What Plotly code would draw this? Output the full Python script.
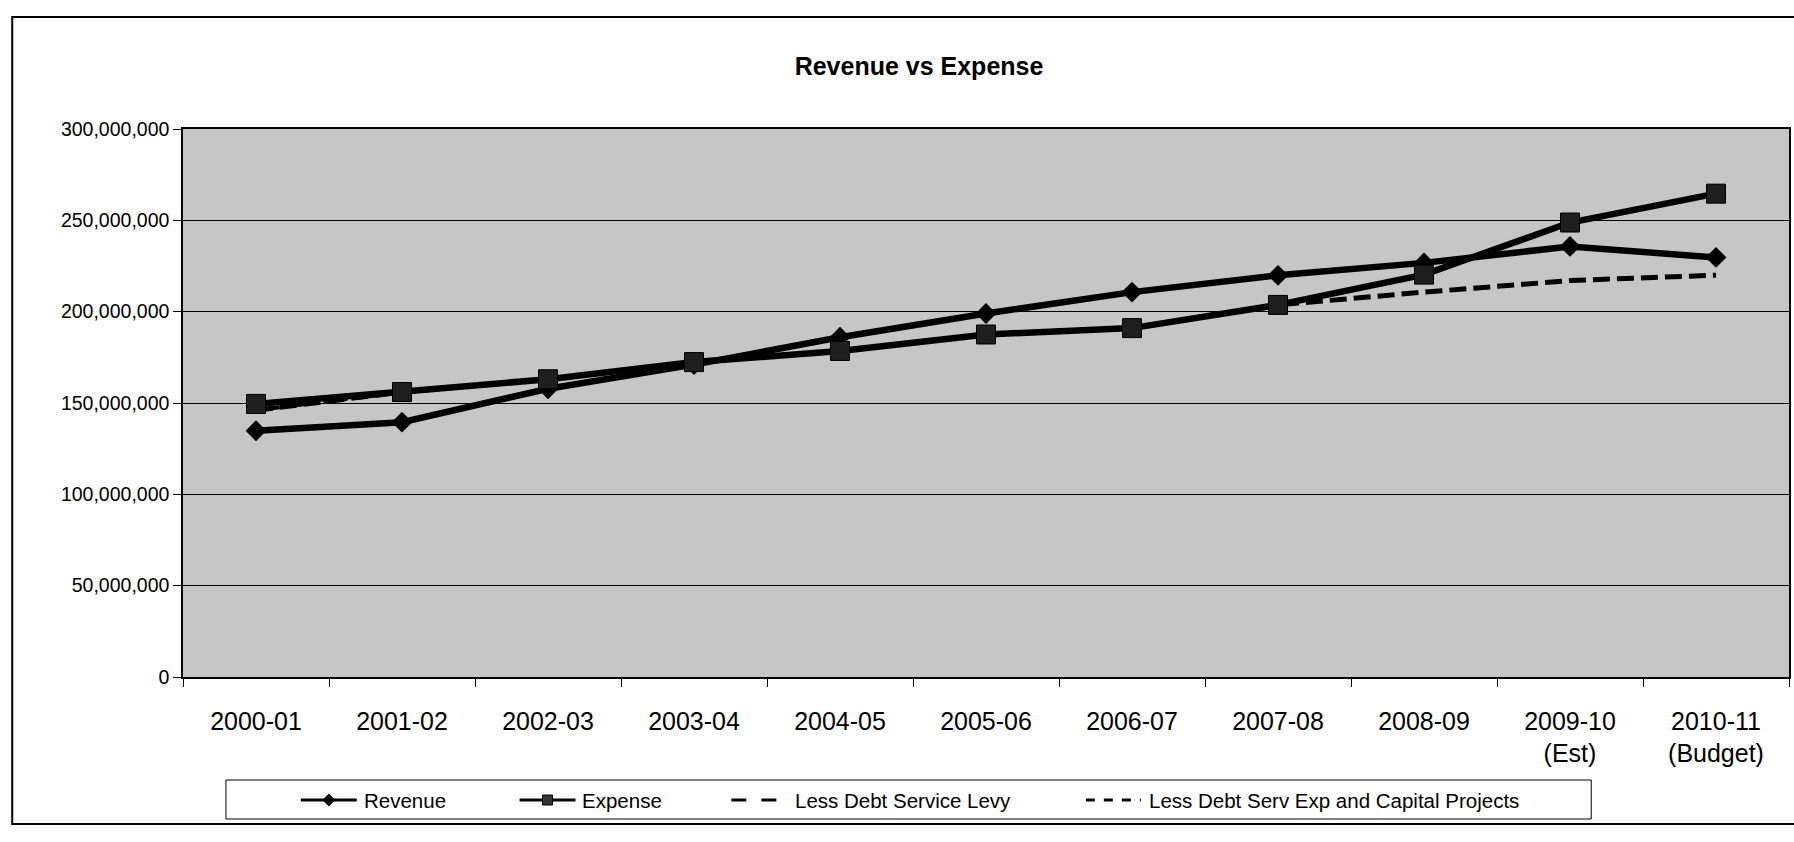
import plotly.graph_objects as go

# ---- data -------------------------------------------------------------
years = ["2000-01", "2001-02", "2002-03", "2003-04", "2004-05", "2005-06",
         "2006-07", "2007-08", "2008-09", "2009-10<br>(Est)", "2010-11<br>(Budget)"]

revenue = [134_800_000, 139_500_000, 157_800_000, 171_000_000, 186_000_000,
           199_000_000, 210_700_000, 219_900_000, 226_700_000, 235_700_000,
           229_700_000]

expense = [149_500_000, 156_000_000, 163_000_000, 172_400_000, 178_500_000,
           187_500_000, 191_000_000, 203_700_000, 220_300_000, 248_800_000,
           264_600_000]

less_debt_service_levy = [146_000_000, 156_000_000, 163_000_000, 172_400_000,
                          178_500_000, 187_500_000, 191_000_000, 203_700_000,
                          220_300_000, 248_800_000, 264_600_000]

less_debt_serv_exp_capital = [146_000_000, 156_000_000, 163_000_000, 172_400_000,
                              178_500_000, 187_500_000, 191_000_000, 203_700_000,
                              210_700_000, 217_000_000, 220_000_000]

y_ticks = [0, 50_000_000, 100_000_000, 150_000_000, 200_000_000,
           250_000_000, 300_000_000]

# ---- geometry ---------------------------------------------------------
W, H = 1794, 842
ML, MR, MT, MB = 183, 3, 129, 165
PW, PH = W - ML - MR, H - MT - MB
FONT = "Liberation Sans, Arial, sans-serif"


def px(x):
    """pixel column -> paper x"""
    return (x - ML) / PW


def py(y):
    """pixel row -> paper y"""
    return (H - MB - y) / PH


fig = go.Figure()

# dashed series sit underneath the solid ones
fig.add_trace(go.Scatter(
    x=years, y=less_debt_service_levy, name="Less Debt Service Levy",
    mode="lines", line=dict(color="black", width=4, dash="24px,10px"),
    showlegend=False))
fig.add_trace(go.Scatter(
    x=years, y=less_debt_serv_exp_capital,
    name="Less Debt Serv Exp and Capital Projects",
    mode="lines", line=dict(color="black", width=5, dash="17px,7px"),
    showlegend=False))
fig.add_trace(go.Scatter(
    x=years, y=revenue, name="Revenue", mode="lines+markers",
    line=dict(color="black", width=6.5),
    marker=dict(symbol="diamond", size=16, color="black"),
    showlegend=False))
fig.add_trace(go.Scatter(
    x=years, y=expense, name="Expense", mode="lines+markers",
    line=dict(color="black", width=6.5),
    marker=dict(symbol="square", size=19, color="#1e1e1e",
                line=dict(color="black", width=1)),
    showlegend=False))

fig.update_layout(
    width=W, height=H,
    margin=dict(l=ML, r=MR, t=MT, b=MB, pad=0),
    paper_bgcolor="white",
    plot_bgcolor="#c6c6c6",
    font=dict(family=FONT, color="black"),
    title=dict(text="<b>Revenue vs Expense</b>", x=919 / W, xanchor="center",
               y=1 - 66 / H, yanchor="middle",
               font=dict(family=FONT, size=25, color="black")),
    showlegend=False,
)

fig.update_xaxes(
    type="category", range=[-0.5, len(years) - 0.5],
    showgrid=False, showline=True, linecolor="black", linewidth=1.5,
    mirror=True, ticks="outside", tickson="boundaries", ticklen=8,
    tickcolor="black", tickfont=dict(size=25, family=FONT),
    ticklabelstandoff=21, fixedrange=True,
)
fig.update_yaxes(
    range=[0, 300_000_000], tickvals=y_ticks, tickformat=",d",
    showgrid=True, gridcolor="black", gridwidth=1,
    showline=True, linecolor="black", linewidth=1.5, mirror=True,
    ticks="outside", ticklen=8, tickcolor="black",
    tickfont=dict(size=19.5, family=FONT), zeroline=False, fixedrange=True,
)

# ---- outer chart frame ------------------------------------------------
fig.add_shape(type="rect", xref="paper", yref="paper",
              x0=px(12), x1=px(W + 5), y0=py(824), y1=py(17),
              line=dict(color="black", width=2), fillcolor="rgba(0,0,0,0)",
              layer="below")

# ---- legend box -------------------------------------------------------
fig.add_shape(type="rect", xref="paper", yref="paper",
              x0=px(226), x1=px(1593), y0=py(819), y1=py(780),
              line=dict(color="black", width=1), fillcolor="white")

legend_items = [
    # name, line start, line end, text start, dash, marker
    ("Revenue", 301, 357, 362, "solid", "diamond"),
    ("Expense", 520, 576, 580, "solid", "square"),
    ("Less Debt Service Levy", 732, 789, 794, "longdash", None),
    ("Less Debt Serv Exp and Capital Projects", 1087, 1142, 1148, "dash", None),
]
LY = 800
for name, x0, x1, tx, dash, marker in legend_items:
    fig.add_shape(type="line", xref="paper", yref="paper",
                  x0=px(x0), x1=px(x1), y0=py(LY), y1=py(LY),
                  line=dict(color="black", width=3, dash=dash))
    cx = (x0 + x1) / 2
    if marker == "diamond":
        d = 6
        path = (f"M {px(cx - d)} {py(LY)} L {px(cx)} {py(LY - d)} "
                f"L {px(cx + d)} {py(LY)} L {px(cx)} {py(LY + d)} Z")
        fig.add_shape(type="path", xref="paper", yref="paper", path=path,
                      fillcolor="black", line=dict(color="black", width=1))
    elif marker == "square":
        d = 5
        fig.add_shape(type="rect", xref="paper", yref="paper",
                      x0=px(cx - d), x1=px(cx + d),
                      y0=py(LY + d), y1=py(LY - d),
                      fillcolor="#333333", line=dict(color="black", width=1))
    fig.add_annotation(text=name, xref="paper", yref="paper",
                       x=px(tx), y=py(LY), xanchor="left", yanchor="middle",
                       showarrow=False, font=dict(size=20.5, family=FONT))

fig.write_html("out.html")
